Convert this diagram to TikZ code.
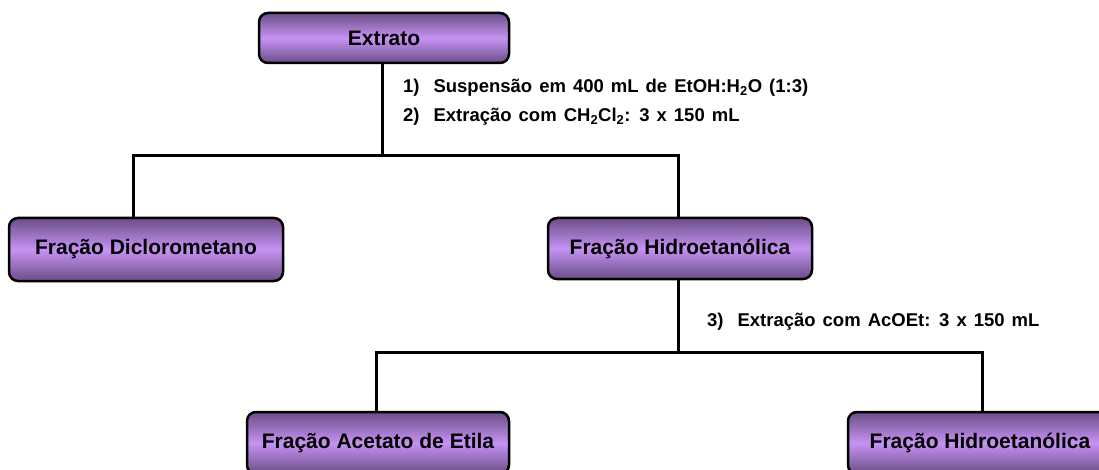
\documentclass[tikz,border=0pt]{standalone}
\usepackage{fontspec}
\setmainfont{Liberation Sans}
\newcommand\lblsetup{\fontsize{18.5}{21}\selectfont\bfseries\spaceskip=0.38em\relax}
\begin{document}
\begin{tikzpicture}[x=1pt,y=-1pt,
  fbox/.style={draw=black,line width=2.5pt,rounded corners=9pt,
    top color=boxdark,bottom color=boxdark,middle color=boxlight,
    inner sep=0pt,font=\fontsize{21}{25}\selectfont\bfseries},
  conn/.style={line width=3pt},
  lbl/.style={anchor=west,inner sep=0pt,font=\lblsetup}]
\definecolor{boxdark}{HTML}{6A4E86}
\definecolor{boxlight}{HTML}{C692F4}
\useasboundingbox (0,0) rectangle (1099,470);
\clip (0,0) rectangle (1099,470);
\fill[white] (0,0) rectangle (1099,470);
\coordinate (j1) at (382,156);
\coordinate (j2) at (678,352);
\coordinate (c1) at (133,218);
\coordinate (c2) at (376,412);
\coordinate (c3) at (982,412);
\node[fbox,minimum width=250pt,minimum height=50pt] (ext) at (384,38) {Extrato};
\node[fbox,minimum width=274pt,minimum height=63pt] (dic) at (146,249.5) {Fração Diclorometano};
\node[fbox,minimum width=264pt,minimum height=61pt] (hid) at (680,248.5) {Fração Hidroetanólica};
\node[fbox,minimum width=262pt,minimum height=62pt] (ace) at (378,443) {Fração Acetato de Etila};
\node[fbox,minimum width=264pt,minimum height=62pt] (hid2) at (980,443) {Fração Hidroetanólica};
\draw[conn] (ext.south -| j1) -- (j1);
\draw[conn] (c1 |- dic.north) |- (j1) -| (hid.north -| j2);
\draw[conn] (hid.south -| j2) -- (j2);
\draw[conn] (c2 |- ace.north) |- (j2) -| (c3 |- hid2.north);
\node[lbl] (l1) at (403,88) {1)\hspace{0.75em}Suspensão em 400 mL de EtOH:H\textsubscript{2}O (1:3)};
\node[lbl] (l2) at (403,117) {2)\hspace{0.75em}Extração com CH\textsubscript{2}Cl\textsubscript{2}: 3 x 150 mL};
\node[lbl] (l3) at (707,322) {3)\hspace{0.75em}Extração com AcOEt: 3 x 150 mL};
\end{tikzpicture}
\end{document}
